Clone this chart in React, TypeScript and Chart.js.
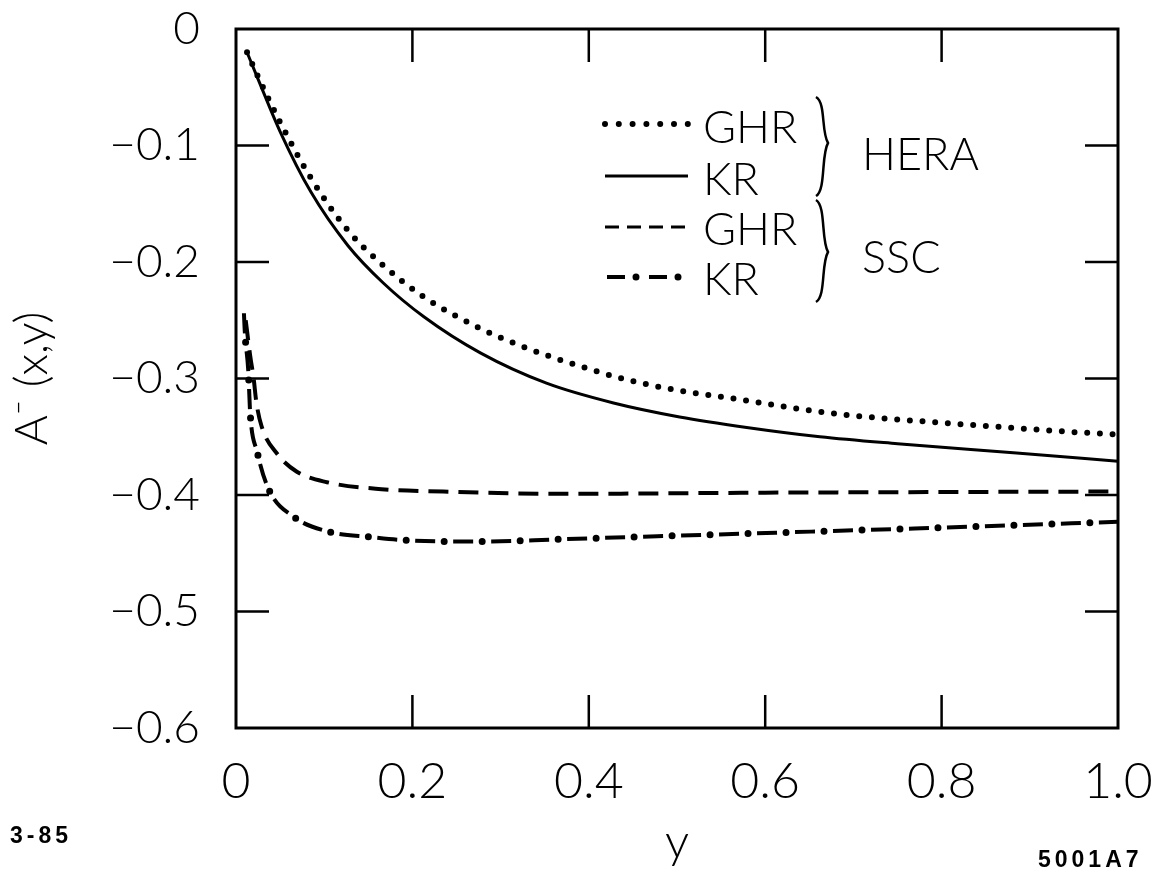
import React, { useEffect, useRef } from "react";
import { Chart, registerables } from "chart.js";

Chart.register(...registerables);

// ---- data ----
const heraGhrX = [0.0125, 0.025, 0.05, 0.085, 0.127, 0.167, 0.213, 0.277, 0.33, 0.384, 0.443, 0.5, 0.571, 0.656, 0.702, 0.8, 0.874, 0.95, 1.0];
const heraGhrY = [-0.02, -0.041, -0.08, -0.128, -0.173, -0.203, -0.23, -0.257, -0.274, -0.288, -0.301, -0.31, -0.318, -0.328, -0.332, -0.338, -0.342, -0.346, -0.348];

const heraKrX = [0.0125, 0.025, 0.05, 0.085, 0.127, 0.167, 0.213, 0.277, 0.352, 0.428, 0.503, 0.579, 0.662, 0.75, 0.885, 1.0];
const heraKrY = [-0.02, -0.043, -0.088, -0.14, -0.186, -0.218, -0.247, -0.278, -0.304, -0.321, -0.333, -0.342, -0.35, -0.356, -0.364, -0.371];

const sscGhrX = [0.011, 0.016, 0.02, 0.023, 0.029, 0.046, 0.069, 0.103, 0.165, 0.235, 0.367, 0.6, 1.0];
const sscGhrY = [-0.25, -0.28, -0.3, -0.32, -0.341, -0.364, -0.38, -0.389, -0.395, -0.397, -0.399, -0.398, -0.397];

const sscKrX = [0.009, 0.01, 0.014, 0.016, 0.024, 0.037, 0.066, 0.108, 0.152, 0.196, 0.28, 0.367, 0.452, 0.541, 0.628, 0.8, 1.0];
const sscKrY = [-0.244, -0.26, -0.294, -0.329, -0.363, -0.395, -0.419, -0.432, -0.436, -0.439, -0.44, -0.438, -0.436, -0.434, -0.432, -0.428, -0.423];

const xTickValues = [0, 0.2, 0.4, 0.6, 0.8, 1.0];
const xTickLabels = ["0", "0.2", "0.4", "0.6", "0.8", "1.0"];
const yTickValues = [0, -0.1, -0.2, -0.3, -0.4, -0.5, -0.6];
const yTickLabels = ["0", "\u22120.1", "\u22120.2", "\u22120.3", "\u22120.4", "\u22120.5", "\u22120.6"];

const legendLabels = ["GHR", "KR", "GHR", "KR"];
const groupLabels = ["HERA", "SSC"];
const xTitle = "y";
const yTitle = "A\u207B (x,y)";
const noteLeft = "3-85";
const noteRight = "5001A7";

const FONT = "Lato, 'Liberation Sans', sans-serif";

const toPts = (xs: number[], ys: number[]) => xs.map((x, i) => ({ x, y: ys[i] }));

const DOT = { width: 6, dash: [0, 12.7] };
const DASH = { width: 4, dash: [20, 10] };
const DD_LINE = { width: 4, dash: [20, 18] };
const DD_DOT = { width: 7, dash: [0, 38], offset: 9 };

const decorPlugin = {
  id: "decor",
  afterDraw(chart: any) {
    const { ctx, chartArea } = chart;
    const { left, right, top, bottom } = chartArea;
    const xs = chart.scales.x;
    const ys = chart.scales.y;
    ctx.save();
    ctx.strokeStyle = "#000";
    ctx.fillStyle = "#000";
    // frame
    ctx.lineWidth = 3;
    ctx.setLineDash([]);
    ctx.strokeRect(left, top, right - left, bottom - top);
    // inner ticks on all sides
    const TL = 33;
    ctx.lineWidth = 2.5;
    ctx.beginPath();
    xTickValues.slice(1, -1).forEach((v) => {
      const px = xs.getPixelForValue(v);
      ctx.moveTo(px, bottom);
      ctx.lineTo(px, bottom - TL);
      ctx.moveTo(px, top);
      ctx.lineTo(px, top + TL);
    });
    yTickValues.slice(1, -1).forEach((v) => {
      const py = ys.getPixelForValue(v);
      ctx.moveTo(left, py);
      ctx.lineTo(left + TL, py);
      ctx.moveTo(right, py);
      ctx.lineTo(right - TL, py);
    });
    ctx.stroke();

    // legend samples
    const lx0 = 605, lx1 = 688;
    const rows = [124, 176, 227, 277];
    const sample = (y: number, width: number, dash: number[], cap: CanvasLineCap, offset = 0) => {
      ctx.beginPath();
      ctx.lineWidth = width;
      ctx.lineCap = cap;
      ctx.setLineDash(dash);
      ctx.lineDashOffset = offset;
      ctx.moveTo(lx0, y);
      ctx.lineTo(lx1, y);
      ctx.stroke();
    };
    sample(rows[0], 6, [0, 13.8], "round");
    sample(rows[1], 3, [], "butt");
    sample(rows[2], 3, [14, 8], "butt");
    sample(rows[3], 4, [18, 24], "butt", -2);
    sample(rows[3], 7, [0, 42], "round", -31);
    ctx.setLineDash([]);
    ctx.lineDashOffset = 0;
    ctx.lineCap = "butt";

    ctx.font = `300 45px ${FONT}`;
    ctx.textAlign = "left";
    ctx.textBaseline = "alphabetic";
    const bases = [143, 195, 245, 295];
    legendLabels.forEach((t, i) => ctx.fillText(t, 703, bases[i]));
    ctx.fillText(groupLabels[0], 862, 170);
    ctx.fillText(groupLabels[1], 862, 273);

    // braces
    const brace = (x: number, y0: number, yTip: number, y1: number) => {
      ctx.beginPath();
      ctx.lineWidth = 2.5;
      ctx.moveTo(x - 2, y0);
      ctx.bezierCurveTo(x + 8, y0 + 6, x + 3, yTip - 12, x + 10, yTip);
      ctx.bezierCurveTo(x + 3, yTip + 12, x + 8, y1 - 6, x - 2, y1);
      ctx.stroke();
    };
    brace(818, 97, 143, 196);
    brace(818, 200, 252, 302);

    // corner notes
    ctx.font = `bold 23px 'Liberation Sans', sans-serif`;
    (ctx as any).letterSpacing = "4px";
    ctx.fillText(noteLeft, 10, 843);
    ctx.fillText(noteRight, 1038, 867);
    ctx.restore();
  },
};

export default function App() {
  const ref = useRef<HTMLCanvasElement | null>(null);
  useEffect(() => {
    document.body.style.margin = "0";
    const canvas = ref.current;
    if (!canvas) return;
    const chart = new Chart(canvas, {
      type: "line",
      data: {
        datasets: [
          {
            label: "GHR HERA",
            data: toPts(heraGhrX, heraGhrY),
            borderColor: "#000",
            borderWidth: DOT.width,
            borderDash: DOT.dash,
            borderCapStyle: "round",
            pointRadius: 0,
            cubicInterpolationMode: "monotone",
          },
          {
            label: "KR HERA",
            data: toPts(heraKrX, heraKrY),
            borderColor: "#000",
            borderWidth: 3,
            pointRadius: 0,
            cubicInterpolationMode: "monotone",
          },
          {
            label: "GHR SSC",
            data: toPts(sscGhrX, sscGhrY),
            borderColor: "#000",
            borderWidth: DASH.width,
            borderDash: DASH.dash,
            pointRadius: 0,
            cubicInterpolationMode: "monotone",
          },
          {
            label: "KR SSC",
            data: toPts(sscKrX, sscKrY),
            borderColor: "#000",
            borderWidth: DD_LINE.width,
            borderDash: DD_LINE.dash,
            pointRadius: 0,
            cubicInterpolationMode: "monotone",
          },
          {
            label: "KR SSC dots",
            data: toPts(sscKrX, sscKrY),
            borderColor: "#000",
            borderWidth: DD_DOT.width,
            borderDash: DD_DOT.dash,
            borderDashOffset: DD_DOT.offset,
            borderCapStyle: "round",
            pointRadius: 0,
            cubicInterpolationMode: "monotone",
          },
        ] as any,
      },
      options: {
        responsive: false,
        animation: false,
        layout: { padding: { top: 29, right: 41, left: 0, bottom: 0 } },
        plugins: { legend: { display: false }, tooltip: { enabled: false } },
        scales: {
          x: {
            type: "linear",
            min: 0,
            max: 1,
            grid: { display: false },
            border: { display: false },
            afterBuildTicks: (s: any) => {
              s.ticks = xTickValues.map((v) => ({ value: v }));
            },
            afterFit: (s: any) => {
              s.height = 155;
              s.paddingLeft = 0;
              s.paddingRight = 0;
            },
            ticks: {
              autoSkip: false,
              maxRotation: 0,
              color: "#000",
              padding: 16,
              font: { family: FONT, size: 50, weight: "300" },
              callback: (_v: any, i: number) => xTickLabels[i],
            },
            title: {
              display: true,
              text: xTitle,
              color: "#000",
              font: { family: FONT, size: 48, weight: "300" },
              padding: { top: 0, bottom: 12 },
            },
          },
          y: {
            type: "linear",
            min: -0.6,
            max: 0,
            grid: { display: false },
            border: { display: false },
            afterBuildTicks: (s: any) => {
              s.ticks = yTickValues.map((v) => ({ value: v }));
            },
            afterFit: (s: any) => {
              s.width = 236;
              s.paddingTop = 0;
              s.paddingBottom = 0;
            },
            ticks: {
              autoSkip: false,
              color: "#000",
              padding: 28,
              font: { family: FONT, size: 46, weight: "300" },
              callback: (_v: any, i: number) => yTickLabels[i],
            },
            title: {
              display: true,
              text: yTitle,
              color: "#000",
              font: { family: FONT, size: 46, weight: "300" },
              padding: { top: 5, bottom: 0 },
            },
          },
        },
      } as any,
      plugins: [decorPlugin],
    });
    return () => chart.destroy();
  }, []);
  return (
    <div style={{ width: 1159, height: 883, background: "#fff" }}>
      <canvas ref={ref} width={1159} height={883} style={{ display: "block" }} />
    </div>
  );
}
